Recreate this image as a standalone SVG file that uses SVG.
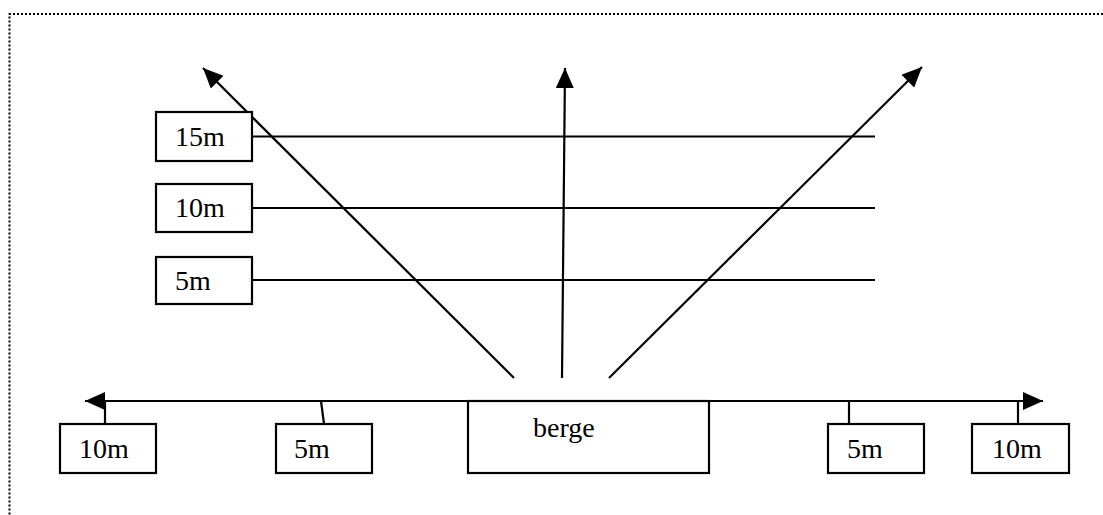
<svg xmlns="http://www.w3.org/2000/svg" width="1103" height="515" viewBox="0 0 1103 515">
<style>
.box{fill:#fff;stroke:#000;stroke-width:2.2}
.ln{stroke:#000;stroke-width:2.2;fill:none}
.lbl{font-family:"Liberation Serif","DejaVu Serif",serif;font-size:28px;fill:#000}
.border{stroke:#000;stroke-width:2;stroke-dasharray:2 2;fill:none}
</style>
<defs>
<marker id="ah" markerUnits="userSpaceOnUse" markerWidth="22" markerHeight="20" refX="20" refY="9" orient="auto-start-reverse">
<path d="M0,0 L20,9 L0,18 Z" fill="#000"/>
</marker>
</defs>
<rect width="1103" height="515" fill="#fff"/>
<path class="border" d="M1103,14 H9.5 V515"/>
<g id="connectors">
<line class="ln" x1="249" y1="136.5" x2="875" y2="136.5"/>
<line class="ln" x1="249" y1="208" x2="875" y2="208"/>
<line class="ln" x1="249" y1="280" x2="875" y2="280"/>
<line class="ln" x1="514" y1="378" x2="203" y2="68" marker-end="url(#ah)"/>
<line class="ln" x1="562" y1="378" x2="565" y2="68" marker-end="url(#ah)"/>
<line class="ln" x1="609" y1="378" x2="922" y2="67" marker-end="url(#ah)"/>
<line class="ln" x1="85" y1="401" x2="1043" y2="401" marker-start="url(#ah)" marker-end="url(#ah)"/>
<line class="ln" x1="105" y1="401" x2="105" y2="424"/>
<line class="ln" x1="321" y1="401" x2="324" y2="424"/>
<line class="ln" x1="849" y1="401" x2="849" y2="424"/>
<line class="ln" x1="1018" y1="401" x2="1018" y2="424"/>
</g>
<g id="n15m"><rect class="box" x="156" y="112" width="96" height="49"/><text class="lbl" x="175" y="146">15m</text></g>
<g id="n10m"><rect class="box" x="156" y="184" width="96" height="48"/><text class="lbl" x="175" y="217">10m</text></g>
<g id="n5m"><rect class="box" x="156" y="257" width="96" height="47"/><text class="lbl" x="175" y="290">5m</text></g>
<g id="b10mL"><rect class="box" x="60" y="424" width="96" height="49"/><text class="lbl" x="79" y="458">10m</text></g>
<g id="b5mL"><rect class="box" x="276" y="424" width="96" height="49"/><text class="lbl" x="294" y="458">5m</text></g>
<g id="berge"><rect class="box" x="468" y="401" width="241" height="72"/><text class="lbl" x="533" y="437">berge</text></g>
<g id="b5mR"><rect class="box" x="828" y="424" width="96" height="49"/><text class="lbl" x="847" y="458">5m</text></g>
<g id="b10mR"><rect class="box" x="972" y="424" width="97" height="49"/><text class="lbl" x="992" y="458">10m</text></g>
</svg>
